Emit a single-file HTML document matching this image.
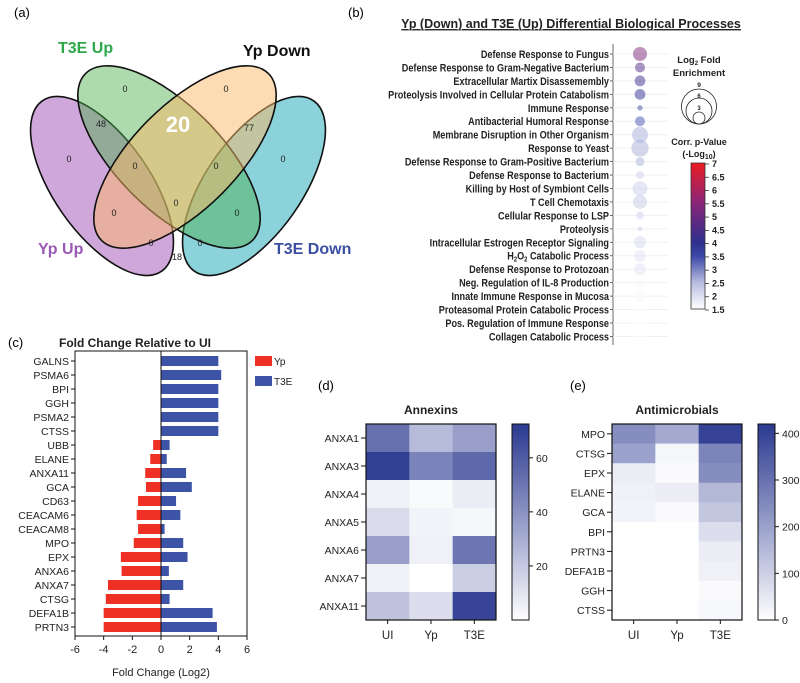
<!DOCTYPE html>
<html><head><meta charset="utf-8"><style>
html,body{margin:0;padding:0;background:#fff;}
svg{display:block;font-family:"Liberation Sans",Arial,sans-serif;}
</style></head><body>
<svg id="fig" width="800" height="683" viewBox="0 0 800 683" xmlns="http://www.w3.org/2000/svg">
<defs>
<linearGradient id="pgrad" x1="0" y1="1" x2="0" y2="0">
<stop offset="0" stop-color="#ffffff"/><stop offset="0.18" stop-color="#b8bde0"/><stop offset="0.36" stop-color="#3d4aa8"/><stop offset="0.45" stop-color="#2d2f8f"/><stop offset="0.73" stop-color="#8a2577"/><stop offset="1" stop-color="#ec1c24"/>
</linearGradient>
<linearGradient id="hgrad" x1="0" y1="1" x2="0" y2="0"><stop offset="0" stop-color="#ffffff"/><stop offset="1" stop-color="#2b3990"/></linearGradient>
</defs>
<text x="14" y="17" font-size="13">(a)</text>
<text x="348" y="17" font-size="13">(b)</text>
<text x="8" y="347" font-size="13">(c)</text>
<text x="318" y="390" font-size="13">(d)</text>
<text x="570" y="390" font-size="13">(e)</text>

<g stroke="#111" stroke-width="1.6">
<ellipse cx="102" cy="186" rx="104" ry="48" transform="rotate(55 102 186)" fill="#a24fb8" fill-opacity="0.5"/>
<ellipse cx="254" cy="186" rx="104" ry="48" transform="rotate(-55 254 186)" fill="#18a6b5" fill-opacity="0.5"/>
<ellipse cx="169" cy="157" rx="118" ry="52" transform="rotate(45 169 157)" fill="#4cb04a" fill-opacity="0.45"/>
<ellipse cx="185" cy="157" rx="118" ry="52" transform="rotate(-45 185 157)" fill="#fbb868" fill-opacity="0.5"/>
</g>
<g font-size="9" text-anchor="middle" fill="#222">
<text x="125" y="92">0</text><text x="226" y="92">0</text><text x="101" y="127">48</text>
<text x="178" y="132" font-size="22" font-weight="bold" fill="#fff">20</text>
<text x="249" y="131">77</text><text x="69" y="162">0</text><text x="135" y="169">0</text><text x="216" y="169">0</text><text x="283" y="162">0</text>
<text x="176" y="206">0</text><text x="114" y="216">0</text><text x="237" y="216">0</text><text x="151" y="246">0</text><text x="200" y="246">0</text><text x="177" y="260">18</text>
</g>
<text x="58" y="53" font-size="16" font-weight="bold" fill="#2ea84a">T3E Up</text>
<text x="243" y="56" font-size="16" font-weight="bold" fill="#111">Yp Down</text>
<text x="38" y="254" font-size="16" font-weight="bold" fill="#9b59b6">Yp Up</text>
<text x="274" y="254" font-size="16" font-weight="bold" fill="#3a4fa0">T3E Down</text>

<text x="571" y="28" font-size="12.5" font-weight="bold" text-anchor="middle" text-decoration="underline" fill="#222">Yp (Down) and T3E (Up) Differential Biological Processes</text>
<line x1="741" y1="30" x2="402" y2="30" stroke="#333" stroke-width="0.8"/>
<g id="bubble"></g>
<g font-weight="bold" fill="#222" text-anchor="middle">
<text x="699" y="63" font-size="9.5">Log<tspan font-size="6" dy="2">2</tspan><tspan dy="-2"> Fold</tspan></text>
<text x="699" y="76" font-size="9.5">Enrichment</text>
<circle cx="699" cy="106.5" r="17.5" fill="none" stroke="#222" stroke-width="0.8"/>
<circle cx="699" cy="111" r="13" fill="none" stroke="#222" stroke-width="0.8"/>
<circle cx="699" cy="118" r="6" fill="none" stroke="#222" stroke-width="0.8"/>
<text x="699" y="87" font-size="6.5">9</text><text x="699" y="98" font-size="6">6</text><text x="699" y="110" font-size="6">3</text>
<text x="699" y="145" font-size="9">Corr. p-Value</text>
<text x="699" y="157" font-size="9">(-Log<tspan font-size="7" dy="2">10</tspan><tspan dy="-2">)</tspan></text>
</g>
<rect x="691" y="163" width="14" height="146" fill="url(#pgrad)" stroke="#333" stroke-width="0.8"/>
<g id="pbar" font-size="9" font-weight="bold" fill="#222"></g>

<text x="135" y="347" font-size="12" font-weight="bold" text-anchor="middle" fill="#222">Fold Change Relative to UI</text>
<g id="bars"></g>
<text x="161" y="676" font-size="11" text-anchor="middle" fill="#222">Fold Change (Log2)</text>
<rect x="255" y="356" width="17" height="10" fill="#ee3124"/>
<text x="274" y="365" font-size="10" fill="#222">Yp</text>
<rect x="255" y="376" width="17" height="10" fill="#3d54a6"/>
<text x="274" y="385" font-size="10" fill="#222">T3E</text>

<text x="431" y="414" font-size="12" font-weight="bold" text-anchor="middle" fill="#222">Annexins</text>
<text x="677" y="414" font-size="12" font-weight="bold" text-anchor="middle" fill="#222">Antimicrobials</text>
<g id="hmd"></g><g id="hme"></g>
</svg>
<script>
const processes = ["Defense Response to Fungus","Defense Response to Gram-Negative Bacterium","Extracellular Martix Disassemembly","Proteolysis Involved in Cellular Protein Catabolism","Immune Response","Antibacterial Humoral Response","Membrane Disruption in Other Organism","Response to Yeast","Defense Response to Gram-Positive Bacterium","Defense Response to Bacterium","Killing by Host of Symbiont Cells","T Cell Chemotaxis","Cellular Response to LSP","Proteolysis","Intracellular Estrogen Receptor Signaling","H2O2 Catabolic Process","Defense Response to Protozoan","Neg. Regulation of IL-8 Production","Innate Immune Response in Mucosa","Proteasomal Protein Catabolic Process","Pos. Regulation of Immune Response","Collagen Catabolic Process"];
const foldEnrich = [3.5,2.5,2.7,2.7,1.3,2.5,4,4.3,2.2,2,3.7,3.5,2,1.2,3,3,3,2.5,3,2.5,3,2.5];
const pValues = [5.3,4.6,4.1,4.0,3.6,3.4,2.6,2.6,2.6,2.2,2.2,2.3,2.2,2.2,2.1,1.9,1.9,1.6,1.6,1.5,1.5,1.5];
const pTicks = [1.5,2,2.5,3,3.5,4,4.5,5,5.5,6,6.5,7];
const genes = ["GALNS","PSMA6","BPI","GGH","PSMA2","CTSS","UBB","ELANE","ANXA11","GCA","CD63","CEACAM6","CEACAM8","MPO","EPX","ANXA6","ANXA7","CTSG","DEFA1B","PRTN3"];
const ypFC = [0,0,0,0,0,0,-0.55,-0.75,-1.1,-1.05,-1.6,-1.7,-1.6,-1.9,-2.8,-2.75,-3.7,-3.85,-4,-4];
const t3eFC = [4,4.2,4,4,4,4,0.6,0.4,1.75,2.15,1.05,1.35,0.25,1.55,1.85,0.55,1.55,0.6,3.6,3.9];
const fcTicks = [-6,-4,-2,0,2,4,6];
const groups = ["UI","Yp","T3E"];
const annexins = ["ANXA1","ANXA3","ANXA4","ANXA5","ANXA6","ANXA7","ANXA11"];
const annexinUI = [52,70,5,13,35,5,22];
const annexinYp = [25,45,2,4,5,0,12];
const annexinT3E = [35,55,7,3,50,18,68];
const annexinTicks = [20,40,60];
const antimicrobials = ["MPO","CTSG","EPX","ELANE","GCA","BPI","PRTN3","DEFA1B","GGH","CTSS"];
const amUI = [240,200,40,30,25,0,0,0,0,0];
const amYp = [180,20,10,40,10,0,0,0,0,0];
const amT3E = [400,260,240,150,120,70,40,30,10,15];
const amTicks = [0,100,200,300,400];

const NS="http://www.w3.org/2000/svg";
function mk(tag,attrs,parent,txt){const e=document.createElementNS(NS,tag);for(const k in attrs)e.setAttribute(k,attrs[k]);if(txt!==undefined)e.textContent=txt;parent.appendChild(e);return e;}
function lerp(a,b,t){return a+(b-a)*t;}
function hex(c){return [parseInt(c.slice(1,3),16),parseInt(c.slice(3,5),16),parseInt(c.slice(5,7),16)];}
function scaleColor(stops,t){t=Math.max(0,Math.min(1,t));for(let i=1;i<stops.length;i++){if(t<=stops[i][0]){const s=stops[i-1],e=stops[i];const u=(t-s[0])/(e[0]-s[0]);const a=hex(s[1]),b=hex(e[1]);return `rgb(${Math.round(lerp(a[0],b[0],u))},${Math.round(lerp(a[1],b[1],u))},${Math.round(lerp(a[2],b[2],u))})`;}}return stops[stops.length-1][1];}
const pStops=[[0,"#ffffff"],[0.18,"#b8bde0"],[0.36,"#3d4aa8"],[0.45,"#2d2f8f"],[0.73,"#8a2577"],[1,"#ec1c24"]];

(function(){
const g=document.getElementById('bubble');
const y0=54, dy=13.45, axX=613, cx=640;
const rowY=i=>y0+i*dy;
const rS=v=>v*2;
const pT=v=>(v-1.5)/5.5;
mk('line',{x1:axX,y1:44,x2:axX,y2:345,stroke:'#444','stroke-width':0.8},g);
const lab=mk('g',{transform:`translate(${axX-4},0) scale(0.83,1)`},g);
processes.forEach((p,i)=>{
  const y=rowY(i);
  const gl=mk('line',{x1:axX,y1:y,x2:668,y2:y,stroke:'#f0f0f4','stroke-width':1},g);
  
  
  mk('line',{x1:axX-3,y1:y,x2:axX,y2:y,stroke:'#444','stroke-width':0.8},g);
  let t;
  if(p==="H2O2 Catabolic Process"){t=mk('text',{x:0,y:y+4,'font-size':11,'font-weight':'bold','text-anchor':'end',fill:'#222'},lab);
    t.innerHTML='H<tspan font-size="7" dy="2">2</tspan><tspan dy="-2">O</tspan><tspan font-size="7" dy="2">2</tspan><tspan dy="-2"> Catabolic Process</tspan>';}
  else t=mk('text',{x:0,y:y+4,'font-size':11,'font-weight':'bold','text-anchor':'end',fill:'#222'},lab,p);
  
  
  const c=mk('circle',{cx:cx,cy:y,r:rS(foldEnrich[i]),fill:scaleColor(pStops,pT(pValues[i])),'fill-opacity':0.5},g);
  
  
});
const pb=document.getElementById('pbar');
const by=v=>309-(v-1.5)/5.5*146+1;
pTicks.forEach(v=>{
  mk('line',{x1:705,y1:by(v),x2:709,y2:by(v),stroke:'#333','stroke-width':0.8},pb);
  const t=mk('text',{x:712,y:by(v)+3},pb,String(v));
  
  
});
})();

(function(){
const g=document.getElementById('bars');
const L=75,R=247,T=351,B=636;
const xS=v=>L+(v+6)/12*(R-L);
const yS=i=>361+i*14;
mk('rect',{x:L,y:T,width:R-L,height:B-T,fill:'none',stroke:'#111','stroke-width':1},g);
genes.forEach((n,i)=>{
  const y=yS(i);
  if(ypFC[i]<0){const r=mk('rect',{x:xS(ypFC[i]),y:y-5,width:xS(0)-xS(ypFC[i]),height:10,fill:'#ee3124'},g);
    
    }
  const b=mk('rect',{x:xS(0),y:y-5,width:xS(t3eFC[i])-xS(0),height:10,fill:'#3d54a6'},g);
  
  
  mk('line',{x1:L-4,y1:y,x2:L,y2:y,stroke:'#111'},g);
  const t=mk('text',{x:L-6,y:y+4,'font-size':10.5,'text-anchor':'end',fill:'#222'},g,n);
  
  
});
mk('line',{x1:xS(0),y1:T,x2:xS(0),y2:B,stroke:'#111','stroke-width':1},g);
fcTicks.forEach(v=>{
  mk('line',{x1:xS(v),y1:B,x2:xS(v),y2:B+4,stroke:'#111'},g);
  const t=mk('text',{x:xS(v),y:B+17,'font-size':11,'text-anchor':'middle',fill:'#222'},g,String(v));
  
  
});
})();

function heat(id,rows,cols,vmax,L,R,T,B,labX,cbX,ticks,name){
const g=document.getElementById(id);
const cw=(R-L)/3, rh=(B-T)/rows.length;
const hs=[[0,"#ffffff"],[1,"#2b3990"]];
rows.forEach((r,i)=>{
  cols.forEach((vals,j)=>{
    const c=mk('rect',{x:L+j*cw,y:T+i*rh,width:cw+0.5,height:rh+0.5,fill:scaleColor(hs,vals[i]/vmax)},g);
    
    
  });
  const y=T+(i+0.5)*rh;
  mk('line',{x1:L-5,y1:y,x2:L,y2:y,stroke:'#111'},g);
  const t=mk('text',{x:L-7,y:y+4,'font-size':10.5,'text-anchor':'end',fill:'#222'},g,r);
  
  
});
mk('rect',{x:L,y:T,width:R-L,height:B-T,fill:'none',stroke:'#111','stroke-width':1.2},g);
groups.forEach((s,j)=>{
  const x=L+(j+0.5)*cw;
  mk('line',{x1:x,y1:B,x2:x,y2:B+4,stroke:'#111'},g);
  const t=mk('text',{x:x,y:B+19,'font-size':11.5,'text-anchor':'middle',fill:'#222'},g,s);
  
  
});
const cb=mk('rect',{x:cbX,y:T,width:17,height:B-T,fill:'url(#hgrad)',stroke:'#111','stroke-width':1},g);


ticks.forEach(v=>{
  const y=B-v/vmax*(B-T);
  mk('line',{x1:cbX+17,y1:y,x2:cbX+21,y2:y,stroke:'#111'},g);
  const t=mk('text',{x:cbX+24,y:y+4,'font-size':10.5,fill:'#222'},g,String(v));
  
  
});
}
heat('hmd',annexins,[annexinUI,annexinYp,annexinT3E],72.5,366,496,424,620,0,512,annexinTicks,'annexin');
heat('hme',antimicrobials,[amUI,amYp,amT3E],420,612,742,424,620,0,758,amTicks,'antimicrobial');
</script>
</body></html>
